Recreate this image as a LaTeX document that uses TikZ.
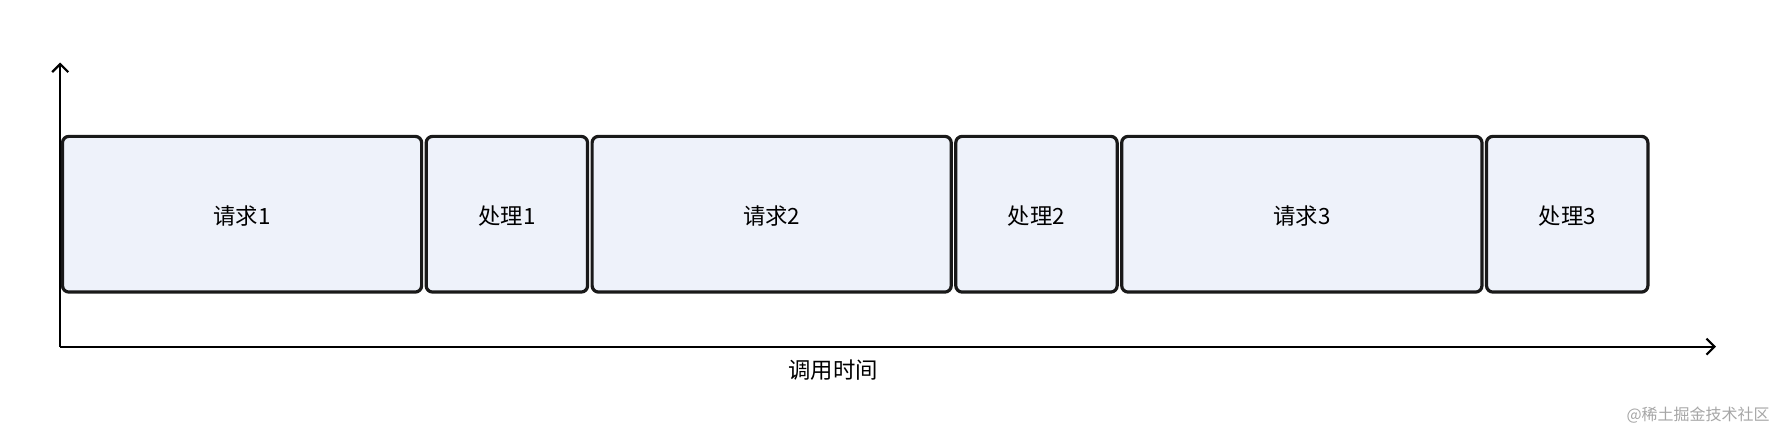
\documentclass[tikz,border=0pt]{standalone}
\usepackage{fontspec}
\newfontfamily\cjk{Noto Sans CJK SC}
\usetikzlibrary{arrows.meta}
\definecolor{boxfill}{HTML}{EEF2FA}
\tikzset{
  phase/.style={draw=black!90, line width=2pt, rounded corners=4pt, fill=boxfill,
    font=\cjk\fontsize{14}{16}\selectfont},
  axis/.style={line width=1.4pt, -{Straight Barb[length=5pt,width=10pt]}}
}
\begin{document}
\begin{tikzpicture}[x=0.25mm, y=-0.25mm]
    \useasboundingbox (0,0) rectangle (1568,383);
    \coordinate (o) at (53,305);
    \coordinate (ytop) at (53,55);
    \coordinate (xend) at (1510,305);
    \draw[axis] (o) -- (ytop);
    \draw[axis] (o) -- (xend);
    \node[font=\cjk\fontsize{14}{16}\selectfont] (tlabel) at (733,326) {调用时间};
    % phases
    \foreach \name/\xa/\xb/\txt in {r1/55/371/请求1, p1/375/517/处理1, r2/521/837/请求2,
        p2/841/983/处理2, r3/987/1304/请求3, p3/1308/1450/处理3} {
        \draw[phase] (\xa,120) rectangle (\xb,257);
        \node[font=\cjk\fontsize{14}{16}\selectfont] (\name) at ({(\xa+\xb)/2},190) {\txt};
    }
    \node[font=\cjk\fontsize{10}{12}\selectfont, text=black!35, anchor=east] (mark) at (1562,365) {@稀土掘金技术社区};
\end{tikzpicture}
\end{document}
